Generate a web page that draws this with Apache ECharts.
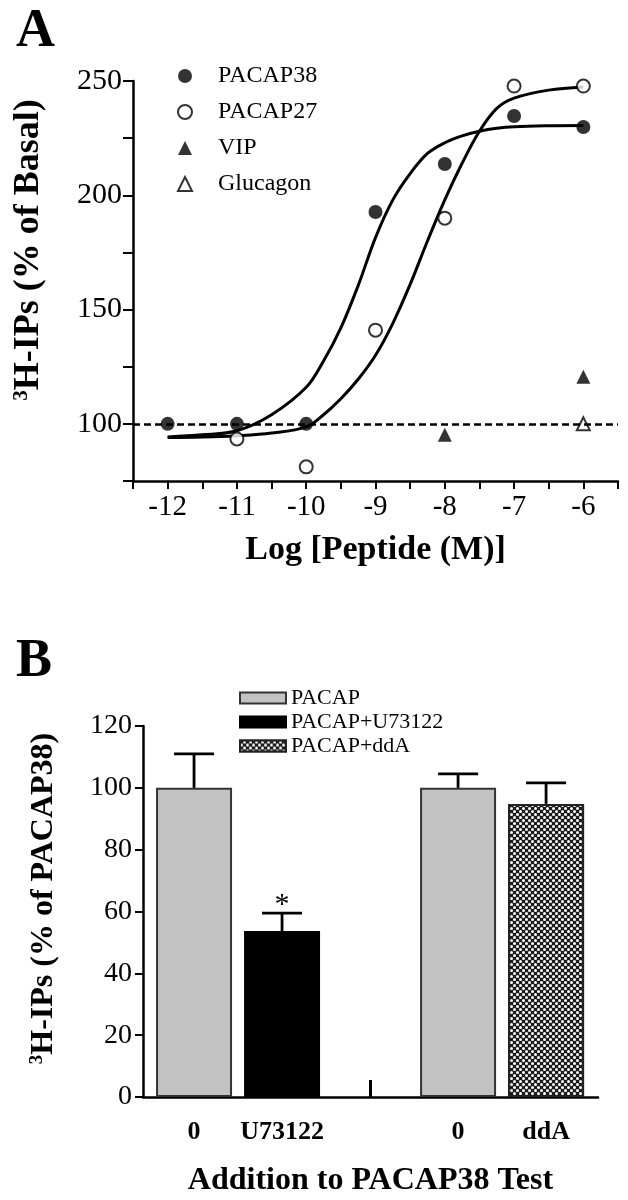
<!DOCTYPE html>
<html>
<head>
<meta charset="utf-8">
<script src="https://cdn.jsdelivr.net/npm/echarts@6/dist/echarts.min.js"></script>
<style>
html,body{margin:0;padding:0;background:#fff;}
#c{width:628px;height:1200px;}
</style>
</head>
<body>
<div id="c"></div>
<script>
// ---------- Panel A data ----------
const doseTicks = [-12, -11, -10, -9, -8, -7, -6];
const pacap38Pts = [[-12, 100], [-11, 100], [-10, 100], [-9, 192.7], [-8, 213.7], [-7, 234.7], [-6, 229.9]];
const pacap27Pts = [[-11, 93.4], [-10, 81.2], [-9, 141], [-8, 190], [-7, 247.8], [-6, 247.8]];
const vipPts = [[-8, 95.2], [-6, 120.6]];
const glucagonPts = [[-6, 100]];
// fitted curves
const fitX = [-12, -11.5, -11, -10.5, -10, -9.75, -9.5, -9.25, -9, -8.75, -8.5, -8.25, -8, -7.75, -7.5, -7.25, -7, -6.5, -6];
const fit38 = [94.3, 95.2, 97, 104, 116, 127.5, 142, 160.5, 181.5, 198, 209.5, 218.3, 223, 226, 228, 229.3, 230, 230.4, 230.5];
const fit27 = [94, 94.2, 94.8, 96, 98.7, 104, 111, 119.5, 130, 144, 161, 180, 198, 214, 228, 238, 242.5, 246, 247.4];
const basalLine = 100;

// ---------- Panel B data ----------
const barCats = ['0', 'U73122', '', '0', 'ddA'];
const barGroup = ['PACAP', 'PACAP+U73122', null, 'PACAP', 'PACAP+ddA'];
const barMeans = [100, 53.7, null, 100, 94.8];
const barErrs = [11, 5.8, null, 4.5, 6.8];
const barSig = ['', '*', '', '', ''];
const groupNames = ['PACAP', 'PACAP+U73122', 'PACAP+ddA'];

const SERIF = "'Liberation Serif','Times New Roman','DejaVu Serif',serif";

const zip = (xs, ys) => xs.map((x, i) => [x, ys[i]]);
function groupData(name) {
  const out = [];
  barCats.forEach((c, i) => { if (barGroup[i] === name) out.push([i, barMeans[i]]); });
  return out;
}
const errData = [];
barCats.forEach((c, i) => { if (barMeans[i] != null) errData.push([i, barMeans[i], barErrs[i]]); });

const chart = echarts.init(document.getElementById('c'), null, {renderer: 'canvas'});

const CAP = 40;
function renderErr(params, api) {
  const x = api.value(0), m = api.value(1), e = api.value(2);
  const p0 = api.coord([x, m]);
  const p1 = api.coord([x, m + e]);
  const st = {stroke: '#000', lineWidth: 2.8};
  const children = [
    {type: 'line', shape: {x1: p0[0], y1: p0[1], x2: p1[0], y2: p1[1]}, style: st},
    {type: 'line', shape: {x1: p1[0] - CAP / 2, y1: p1[1], x2: p1[0] + CAP / 2, y2: p1[1]}, style: st}
  ];
  const sig = barSig[x];
  if (sig) {
    children.push({type: 'text', style: {text: sig, x: p1[0], y: p1[1] + 7, align: 'center', verticalAlign: 'bottom',
      font: '30px ' + SERIF, fill: '#000'}});
  }
  return {type: 'group', children};
}

const axisLineStyle = {color: '#000', width: 2.5};

const option = {
  animation: false,
  backgroundColor: '#fff',
  title: [
    {text: 'A', left: 16, top: 5, padding: 0, textStyle: {fontFamily: SERIF, fontWeight: 'bold', fontSize: 54, color: '#000'}},
    {text: 'B', left: 16, top: 635, padding: 0, textStyle: {fontFamily: SERIF, fontWeight: 'bold', fontSize: 54, color: '#000'}}
  ],
  legend: [
    {
      data: ['PACAP38', 'PACAP27', 'VIP', 'Glucagon'],
      orient: 'vertical', left: 177, top: 64, itemWidth: 14, itemHeight: 14, itemGap: 12,
      selectedMode: false, padding: 0,
      textStyle: {fontFamily: SERIF, fontSize: 24, color: '#000', padding: [0, 0, 0, 21]}
    },
    {
      data: groupNames,
      orient: 'vertical', left: 239, top: 687, itemWidth: 46, itemHeight: 11, itemGap: 2,
      icon: 'rect', selectedMode: false, padding: 0,
      textStyle: {fontFamily: SERIF, fontSize: 22, color: '#000'}
    }
  ],
  grid: [
    {left: 133, right: 10, top: 81, height: 400},
    {left: 143, right: 30, top: 726, height: 371}
  ],
  xAxis: [
    {
      gridIndex: 0, type: 'value', min: -12.5, max: -5.5, interval: 0.5,
      axisLine: {show: true, onZero: false, lineStyle: axisLineStyle},
      axisTick: {show: true, length: 8, lineStyle: {color: '#000', width: 2}},
      splitLine: {show: false},
      axisLabel: {fontFamily: SERIF, fontSize: 29, color: '#000', margin: 12,
        formatter: v => (doseTicks.indexOf(v) >= 0 ? String(v) : '')},
      name: 'Log [Peptide (M)]', nameLocation: 'middle', nameGap: 52,
      nameTextStyle: {fontFamily: SERIF, fontWeight: 'bold', fontSize: 34, color: '#000'}
    },
    {
      gridIndex: 1, type: 'value', min: -0.58, max: 4.59,
      axisLine: {show: true, onZero: false, lineStyle: axisLineStyle},
      axisTick: {show: true, inside: true, length: 17, customValues: [2], lineStyle: {color: '#000', width: 3}},
      splitLine: {show: false},
      axisLabel: {fontFamily: SERIF, fontWeight: 'bold', fontSize: 26, color: '#000', margin: 22,
        customValues: [0, 1, 3, 4], formatter: v => barCats[v]},
      name: 'Addition to PACAP38 Test', nameLocation: 'middle', nameGap: 68,
      nameTextStyle: {fontFamily: SERIF, fontWeight: 'bold', fontSize: 32, color: '#000'}
    }
  ],
  yAxis: [
    {
      gridIndex: 0, type: 'value', min: 75, max: 250, interval: 25,
      axisLine: {show: true, onZero: false, lineStyle: axisLineStyle},
      axisTick: {show: true, length: 10, lineStyle: {color: '#000', width: 2}},
      splitLine: {show: false},
      axisLabel: {fontFamily: SERIF, fontSize: 30, color: '#000', margin: 11,
        formatter: v => (v % 50 === 0 ? String(v) : '')},
      name: '{sup|3}{b|H-IPs (% of Basal)}', nameLocation: 'middle', nameGap: 86,
      nameTextStyle: {padding: [0, 0, 0, 62], rich: {
        sup: {fontFamily: SERIF, fontWeight: 'bold', fontSize: 21, verticalAlign: 'top', color: '#000'},
        b: {fontFamily: SERIF, fontWeight: 'bold', fontSize: 36, color: '#000'}
      }}
    },
    {
      gridIndex: 1, type: 'value', min: 0, max: 120, interval: 20,
      axisLine: {show: true, onZero: false, lineStyle: axisLineStyle},
      axisTick: {show: true, length: 8, lineStyle: {color: '#000', width: 2}},
      splitLine: {show: false},
      axisLabel: {fontFamily: SERIF, fontSize: 28, color: '#000', margin: 11},
      name: '{sup|3}{b|H-IPs (% of PACAP38)}', nameLocation: 'middle', nameGap: 83,
      nameTextStyle: {padding: [0, 0, 0, 26], rich: {
        sup: {fontFamily: SERIF, fontWeight: 'bold', fontSize: 19, verticalAlign: 'top', color: '#000'},
        b: {fontFamily: SERIF, fontWeight: 'bold', fontSize: 32, color: '#000'}
      }}
    }
  ],
  series: [
    {
      name: 'PACAP38 fit', type: 'line', xAxisIndex: 0, yAxisIndex: 0, data: zip(fitX, fit38),
      smooth: 0.35, showSymbol: false, symbol: 'none', z: 2, silent: true,
      lineStyle: {color: '#000', width: 3}
    },
    {
      name: 'PACAP27 fit', type: 'line', xAxisIndex: 0, yAxisIndex: 0, data: zip(fitX, fit27),
      smooth: 0.35, showSymbol: false, symbol: 'none', z: 2, silent: true,
      lineStyle: {color: '#000', width: 3},
      markLine: {silent: true, symbol: 'none', label: {show: false}, animation: false,
        lineStyle: {color: '#000', width: 2.5, type: [7, 4]}, data: [{yAxis: basalLine}]}
    },
    {
      name: 'PACAP38', type: 'scatter', xAxisIndex: 0, yAxisIndex: 0, data: pacap38Pts,
      symbol: 'circle', symbolSize: 14, z: 4, itemStyle: {color: '#000'}
    },
    {
      name: 'PACAP27', type: 'scatter', xAxisIndex: 0, yAxisIndex: 0, data: pacap27Pts,
      symbol: 'circle', symbolSize: 13, z: 4, itemStyle: {color: '#fff', borderColor: '#000', borderWidth: 2}
    },
    {
      name: 'VIP', type: 'scatter', xAxisIndex: 0, yAxisIndex: 0, data: vipPts,
      symbol: 'triangle', symbolSize: 14, z: 4, itemStyle: {color: '#000'}
    },
    {
      name: 'Glucagon', type: 'scatter', xAxisIndex: 0, yAxisIndex: 0, data: glucagonPts,
      symbol: 'triangle', symbolSize: 13, z: 4, itemStyle: {color: '#fff', borderColor: '#000', borderWidth: 2}
    },
    {
      name: 'PACAP', type: 'bar', xAxisIndex: 1, yAxisIndex: 1, data: groupData('PACAP'),
      barWidth: 76, barGap: '-100%', z: 2,
      itemStyle: {color: '#c2c2c2', borderColor: '#333', borderWidth: 2}
    },
    {
      name: 'PACAP+U73122', type: 'bar', xAxisIndex: 1, yAxisIndex: 1, data: groupData('PACAP+U73122'),
      barWidth: 76, barGap: '-100%', z: 2,
      itemStyle: {color: '#000', borderColor: '#000', borderWidth: 2}
    },
    {
      name: 'PACAP+ddA', type: 'bar', xAxisIndex: 1, yAxisIndex: 1, data: groupData('PACAP+ddA'),
      barWidth: 76, barGap: '-100%', z: 2,
      itemStyle: {color: '#1c1c1c', borderColor: '#222', borderWidth: 2,
        decal: {symbol: 'circle', symbolSize: 1, color: '#fff', dashArrayX: [[3, 3], [0, 3, 3, 0]], dashArrayY: [3, 0], rotation: 0}}
    },
    {
      name: 'err', type: 'custom', xAxisIndex: 1, yAxisIndex: 1, data: errData, z: 5,
      renderItem: renderErr, silent: true
    }
  ]
};
chart.setOption(option);
</script>
</body>
</html>
